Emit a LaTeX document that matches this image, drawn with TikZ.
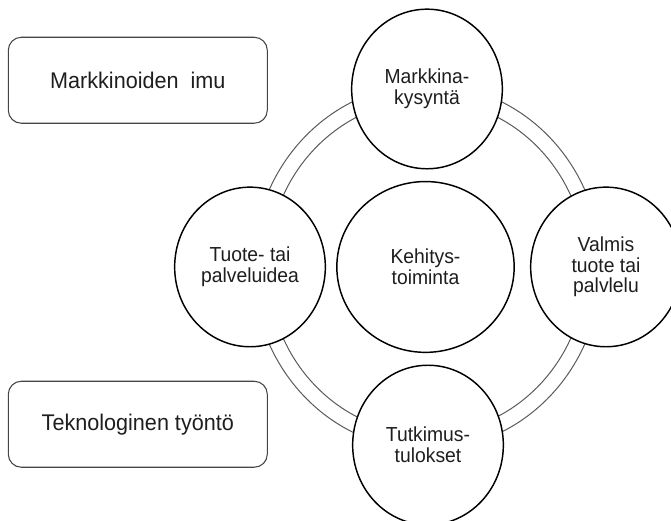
\documentclass[tikz,border=0pt]{standalone}
\usepackage{fontspec}
\setmainfont{Liberation Sans}
\usetikzlibrary{shapes.geometric}
\definecolor{txtcol}{HTML}{1E1E1E}
\definecolor{ringcol}{HTML}{5A5A5A}
\definecolor{boxcol}{HTML}{454545}
\tikzset{
  roundnode/.style={ellipse, draw=black, line width=1.1pt, fill=white,
    minimum width=113pt, minimum height=114pt, inner sep=0pt,
    align=center, text=txtcol, font=\fontsize{14.5}{14.8}\selectfont},
  centernode/.style={roundnode, minimum width=133pt, minimum height=122pt},
  labelbox/.style={rectangle, rounded corners=9.75pt, draw=boxcol, line width=0.8pt,
    minimum width=194.25pt, minimum height=61.4pt, inner sep=0pt,
    text=txtcol, font=\fontsize{16.2}{18}\selectfont},
  ringline/.style={draw=ringcol, line width=0.75pt},
  every node/.append style={transform shape}
}
\begin{document}
\begin{tikzpicture}[x=0.75pt, y=0.75pt, yscale=1.05]
\useasboundingbox (0,0) rectangle (671,495.24);
% ring
\coordinate (ringc) at (427,241);
\draw[ringline] (ringc) circle [radius=130.5pt];
\draw[ringline] (ringc) circle [radius=119.25pt];
% circles
\node[roundnode] (top) at (427,410.5) {Markkina-\\kysyntä};
\node[roundnode] (left) at (250,241) {Tuote- tai\\palveluidea};
\node[roundnode] (right) at (606,241) {Valmis\\tuote tai\\palvlelu};
\node[roundnode] (bottom) at (428,71.4) {Tutkimus-\\tulokset};
\node[centernode] (center) at (425.5,241) {Kehitys-\\toiminta};
% boxes
\node[labelbox] (pull) at (137.8,418.8) {Markkinoiden\ \ imu};
\node[labelbox] (push) at (137.8,91.2) {Teknologinen työntö};
\end{tikzpicture}
\end{document}
